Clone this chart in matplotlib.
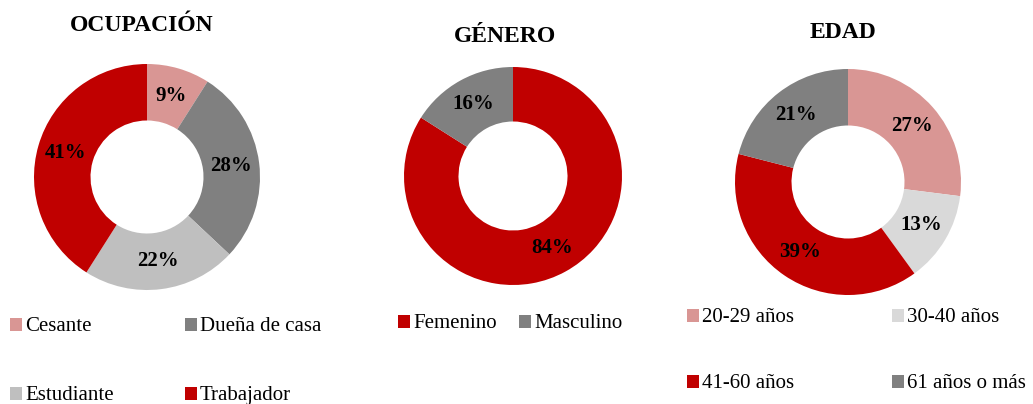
import matplotlib
matplotlib.use('Agg')
import matplotlib.pyplot as plt
from matplotlib.patches import Rectangle

plt.rcParams['font.family'] = ['Liberation Serif', 'DejaVu Serif']

# datos
ocup_labels = ['Cesante', 'Dueña de casa', 'Estudiante', 'Trabajador']
ocup_values = [9, 28, 22, 41]
ocup_colors = ['#D99694', '#808080', '#BFBFBF', '#C00000']

gen_labels = ['Femenino', 'Masculino']
gen_values = [84, 16]
gen_colors = ['#C00000', '#808080']

edad_labels = ['20-29 años', '30-40 años', '41-60 años', '61 años o más']
edad_values = [27, 13, 39, 21]
edad_colors = ['#D99694', '#D9D9D9', '#C00000', '#808080']

W, H = 1033, 404
fig = plt.figure(figsize=(W / 100, H / 100), dpi=100)


def px_box(cx, cy, r):
    return [(cx - r) / W, 1 - (cy + r) / H, 2 * r / W, 2 * r / H]


def donut(cx, cy, r, values, colors):
    ax = fig.add_axes(px_box(cx, cy, r))
    wedges, _, autotexts = ax.pie(values, colors=colors, startangle=90, counterclock=False,
                                  radius=1, autopct='%d%%', pctdistance=0.75,
                                  wedgeprops=dict(width=0.5, edgecolor='none', linewidth=0),
                                  textprops=dict(fontsize=15, fontweight='bold', color='black'))
    ax.set_xlim(-1, 1)
    ax.set_ylim(-1, 1)
    ax.axis('off')
    return wedges


def legend_item(x, y_base, label, color):
    # cuadro de color + texto (coordenadas en pixeles)
    fig.add_artist(Rectangle((x / W, 1 - (y_base) / H), 12 / W, 13 / H,
                             transform=fig.transFigure, facecolor=color, edgecolor='none'))
    fig.text((x + 15) / W, 1 - y_base / H, label, fontsize=15, va='baseline', ha='left')


# ocupación
w1 = donut(147, 177, 113, ocup_values, ocup_colors)
fig.text(142 / W, 1 - 31 / H, 'OCUPACIÓN', fontsize=17, fontweight='bold', ha='center', va='baseline')
pos1 = [(10, 331), (185, 331), (10, 400), (185, 400)]
for (x, y), lab, wd in zip(pos1, ocup_labels, w1):
    legend_item(x, y, lab, wd.get_facecolor())

# género
w2 = donut(513, 176, 109, gen_values, gen_colors)
fig.text(505 / W, 1 - 42 / H, 'GÉNERO', fontsize=17, fontweight='bold', ha='center', va='baseline')
pos2 = [(398, 328), (519, 328)]
for (x, y), lab, wd in zip(pos2, gen_labels, w2):
    legend_item(x, y, lab, wd.get_facecolor())

# edad
w3 = donut(848, 182, 113, edad_values, edad_colors)
fig.text(843 / W, 1 - 38 / H, 'EDAD', fontsize=17, fontweight='bold', ha='center', va='baseline')
pos3 = [(687, 322), (892, 322), (687, 388), (892, 388)]
for (x, y), lab, wd in zip(pos3, edad_labels, w3):
    legend_item(x, y, lab, wd.get_facecolor())

plt.savefig('out.png', dpi=100)
